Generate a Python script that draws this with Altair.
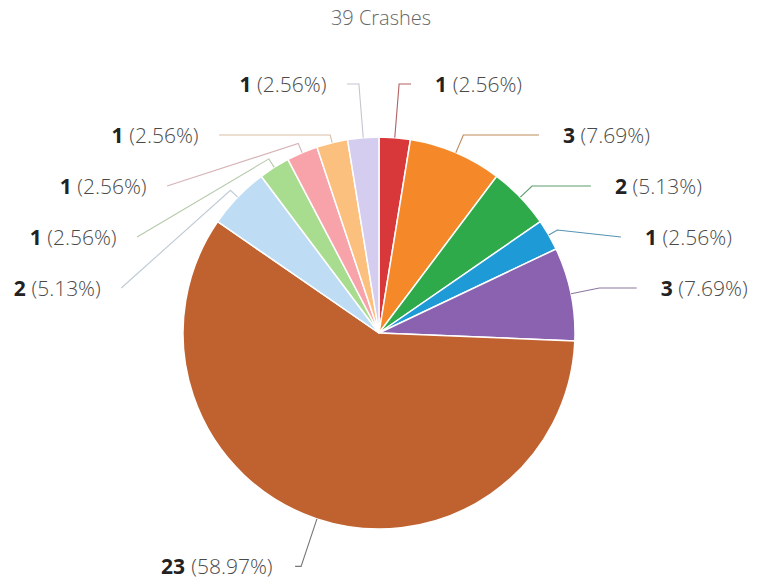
import math
import altair as alt
import pandas as pd

# ---- data ----
categories = ["C1", "C2", "C3", "C4", "C5", "C6", "C7", "C8", "C9", "C10", "C11"]
counts = [1, 3, 2, 1, 3, 23, 2, 1, 1, 1, 1]
slice_colors = ["#d8383a", "#f5892a", "#2eaa4a", "#1e9ad6", "#8a62b0", "#c0622f",
                "#bfdcf5", "#a8dc8e", "#f8a3aa", "#fcc07e", "#d5cdf0"]
title_text = "39 Crashes"

# ---- layout constants ----
W, H = 762, 584
CX, CY, R = 379, 333, 196
FS = 21
FONT = "Open Sans"

total = sum(counts)


def mix(hex_color, other=(140, 140, 140), t=0.5):
    h = hex_color.lstrip("#")
    c = [int(h[i:i + 2], 16) for i in (0, 2, 4)]
    m = [round(c[i] * (1 - t) + other[i] * t) for i in range(3)]
    return "#%02x%02x%02x" % tuple(m)


def text_w(s, bold=False):
    w = 0.0
    for ch in s:
        if ch.isdigit():
            w += 0.60 if bold else 0.572
        elif ch in "()":
            w += 0.296
        elif ch == ".":
            w += 0.267
        elif ch == "%":
            w += 0.846
        else:
            w += 0.3
    return w * FS


# mid angles of each slice (clockwise from 12 o'clock)
mids = []
acc = 0
for c in counts:
    mids.append((acc + c / 2) / total * 2 * math.pi)
    acc += c

right = [i for i, t in enumerate(mids) if t < math.pi and abs(t - math.pi) >= math.pi / 4]
left = [i for i, t in enumerate(mids) if t >= math.pi and abs(t - math.pi) >= math.pi / 4]
bottom = [i for i, t in enumerate(mids) if abs(t - math.pi) < math.pi / 4]
right.sort(key=lambda i: mids[i])
left.sort(key=lambda i: -mids[i])

ROW0 = CY - R - 51
ROWSTEP = 51
A_ELL, B_ELL = 262, 250

line_rows = []
label_rows = []
for side, idxs in (("r", right), ("l", left)):
    sgn = 1 if side == "r" else -1
    for k, i in enumerate(idxs):
        t = mids[i]
        ux, uy = math.sin(t), -math.cos(t)
        p1 = (CX + R * ux, CY + R * uy)
        ty = ROW0 + ROWSTEP * k
        ly = ty - 2
        need = (ly - p1[1]) / uy if uy < 0 else -1
        if 0 < need <= 70:
            p2 = (p1[0] + need * ux, ly)
        else:
            p2 = (p1[0] + 10 * ux, p1[1] + 10 * uy)
        dy = CY - ly
        dx = A_ELL * math.sqrt(max(0.0, 1 - (dy / B_ELL) ** 2))
        p3x = CX + sgn * dx
        if side == "r":
            p3x = max(p3x, p2[0] + 12)
        else:
            p3x = min(p3x, p2[0] - 12)
        p3 = (p3x, ly)
        lc = mix(slice_colors[i]) if side == "r" else mix(slice_colors[i], (190, 190, 190), 0.6)
        for j, p in enumerate((p1, p2, p3)):
            line_rows.append({"cat": categories[i], "o": j, "x": p[0], "y": p[1], "lc": lc})
        num = str(counts[i])
        pct = "(%.2f%%)" % (counts[i] / total * 100)
        nw = text_w(num, True)
        pw = text_w(pct)
        if side == "r":
            xs = p3x + 24
        else:
            xs = p3x - 18 - (nw + 5 + pw)
        label_rows.append({"num": num, "pct": pct, "xn": xs, "xp": xs + nw + 5, "y": ty})

for i in bottom:
    t = mids[i]
    p1 = (CX + R * math.sin(t), CY - R * math.cos(t))
    p2 = (CX + (R + 50) * math.sin(t), CY - (R + 50) * math.cos(t))
    sgn = 1 if math.sin(t) > 0 else -1
    p3 = (p2[0] + sgn * 6, p2[1])
    for j, p in enumerate((p1, p2, p3)):
        line_rows.append({"cat": categories[i], "o": j, "x": p[0], "y": p[1],
                          "lc": "#777777"})
    num = str(counts[i])
    pct = "(%.2f%%)" % (counts[i] / total * 100)
    nw = text_w(num, True)
    pw = text_w(pct)
    if sgn < 0:
        xs = p3[0] - 20 - (nw + 5 + pw)
    else:
        xs = p3[0] + 20
    label_rows.append({"num": num, "pct": pct, "xn": xs, "xp": xs + nw + 5, "y": p2[1] + 2})

pie_df = pd.DataFrame({"cat": categories, "count": counts, "ord": list(range(len(counts)))})
line_df = pd.DataFrame(line_rows)
label_df = pd.DataFrame(label_rows)

xs_scale = alt.Scale(domain=[0, W], range=[0, W])
ys_scale = alt.Scale(domain=[0, H], range=[0, H])

pie = alt.Chart(pie_df).mark_arc(outerRadius=R, stroke="white", strokeWidth=1.5).encode(
    theta=alt.Theta("count:Q", stack=True),
    order=alt.Order("ord:Q"),
    color=alt.Color("cat:N", scale=alt.Scale(domain=categories, range=slice_colors), legend=None),
    x=alt.value(CX),
    y=alt.value(CY),
)

lines = alt.Chart(line_df).mark_line(strokeWidth=1.1).encode(
    x=alt.X("x:Q", scale=xs_scale, axis=None),
    y=alt.Y("y:Q", scale=ys_scale, axis=None),
    detail="cat:N",
    order="o:Q",
    color=alt.Color("lc:N", scale=None),
)

nums = alt.Chart(label_df).mark_text(align="left", baseline="middle", font=FONT,
                                     fontSize=FS, fontWeight="bold", color="#222222").encode(
    x=alt.X("xn:Q", scale=xs_scale, axis=None),
    y=alt.Y("y:Q", scale=ys_scale, axis=None),
    text="num:N",
)

pcts = alt.Chart(label_df).mark_text(align="left", baseline="middle", font=FONT,
                                     fontSize=FS, fontWeight=300, color="#4a4a4a").encode(
    x=alt.X("xp:Q", scale=xs_scale, axis=None),
    y=alt.Y("y:Q", scale=ys_scale, axis=None),
    text="pct:N",
)

title = alt.Chart(pd.DataFrame({"t": [title_text]})).mark_text(
    align="center", baseline="middle", font=FONT, fontSize=20, fontWeight=300, color="#666666"
).encode(x=alt.value(CX + 2), y=alt.value(19), text="t:N")

chart = alt.layer(pie, lines, nums, pcts, title).properties(
    width=W, height=H, padding=0, autosize=alt.AutoSizeParams(type="none")
).configure(background="white", view=alt.ViewConfig(stroke=None))

chart.save("out.html", embed_options={"renderer": "svg", "actions": False})
